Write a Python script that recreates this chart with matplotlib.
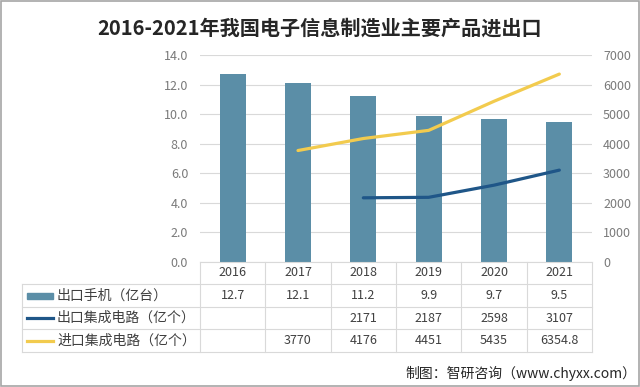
import matplotlib
matplotlib.use("Agg")
import matplotlib.pyplot as plt
from matplotlib.transforms import blended_transform_factory
from matplotlib.patches import Rectangle
from matplotlib.lines import Line2D

plt.rcParams['font.family'] = ['Noto Sans CJK SC', 'DejaVu Sans']

years = ['2016', '2017', '2018', '2019', '2020', '2021']
phones = [12.7, 12.1, 11.2, 9.9, 9.7, 9.5]
ic_export = [None, None, 2171, 2187, 2598, 3107]
ic_import = [None, 3770, 4176, 4451, 5435, 6354.8]
ic_export_txt = ['', '', '2171', '2187', '2598', '3107']
ic_import_txt = ['', '3770', '4176', '4451', '5435', '6354.8']
phones_txt = ['12.7', '12.1', '11.2', '9.9', '9.7', '9.5']
row_labels = ['出口手机（亿台）', '出口集成电路（亿个）', '进口集成电路（亿个）']

W, H = 640, 387
BAR = '#5b8ea7'
DARK = '#1f5688'
YEL = '#f2cb4e'
GRID = '#d9d9d9'
TXT = '#7a7a7a'


def fx(x):
    return x / W


def fy(y):
    return 1 - y / H


fig = plt.figure(figsize=(6.4, 3.87), dpi=100)
ax = fig.add_axes([fx(200), fy(262), fx(592) - fx(200), fy(55) - fy(262)])
ax2 = ax.twinx()

x = list(range(len(years)))
ax.bar(x, phones, width=0.4, color=BAR, zorder=2)
ax.set_xlim(-0.5, 5.5)
ax.set_ylim(0, 14)
ax.set_yticks([0, 2, 4, 6, 8, 10, 12, 14])
ax.set_yticklabels([f"{v:.1f}" for v in range(0, 15, 2)])
ax.yaxis.grid(True, color=GRID, linewidth=0.8, zorder=0)
ax.set_axisbelow(True)
ax.set_xticks([])

ex_x = [i for i, v in enumerate(ic_export) if v is not None]
ex_y = [v for v in ic_export if v is not None]
im_x = [i for i, v in enumerate(ic_import) if v is not None]
im_y = [v for v in ic_import if v is not None]
ax2.plot(ex_x, ex_y, color=DARK, linewidth=2.3, solid_capstyle='round')
ax2.plot(im_x, im_y, color=YEL, linewidth=2.3, solid_capstyle='round')
ax2.set_ylim(0, 7000)
ax2.set_yticks(range(0, 7001, 1000))

for a in (ax, ax2):
    for s in a.spines.values():
        s.set_visible(False)
    a.tick_params(length=0, labelsize=9, colors=TXT)
ax.tick_params(axis='y', pad=8.5)
ax2.tick_params(axis='y', pad=8)

# data table below the plot
tr = blended_transform_factory(ax.transData, fig.transFigure)
row_y = [262, 284, 307, 329, 352]
fig.add_artist(Line2D([fx(200), fx(592)], [fy(262), fy(262)], color=GRID, lw=0.8))
for yy in row_y[1:]:
    fig.add_artist(Line2D([fx(22), fx(592)], [fy(yy), fy(yy)], color=GRID, lw=0.8))
for i in range(len(years) + 1):
    xx = i - 0.5
    fig.add_artist(Line2D([xx, xx], [fy(262), fy(352)], color=GRID, lw=0.8, transform=tr))
fig.add_artist(Line2D([fx(22), fx(22)], [fy(284), fy(352)], color=GRID, lw=0.8))

rows = [years, phones_txt, ic_export_txt, ic_import_txt]
for r, vals in enumerate(rows):
    yc = fy((row_y[r] + row_y[r + 1]) / 2)
    for i, v in enumerate(vals):
        fig.text(i, yc, v, transform=tr, ha='center', va='center', fontsize=9, color='#404040')

# legend keys + labels
for r, lab in enumerate(row_labels):
    yc = (row_y[r + 1] + row_y[r + 2]) / 2
    if r == 0:
        fig.add_artist(Rectangle((fx(27), fy(yc + 3)), fx(26), fy(yc - 3) - fy(yc + 3),
                                 color=BAR, transform=fig.transFigure))
    else:
        fig.add_artist(Line2D([fx(27), fx(53)], [fy(yc), fy(yc)], color=[DARK, YEL][r - 1], lw=2.3))
    fig.text(fx(57), fy(yc), lab, ha='left', va='center', fontsize=10, color='#404040')

fig.text(0.5, fy(28), '2016-2021年我国电子信息制造业主要产品进出口', ha='center', va='center',
         fontsize=14.5, fontweight='bold', color='#262626')
fig.text(fx(636), fy(373), '制图：智研咨询（www.chyxx.com）', ha='right', va='center',
         fontsize=10, color='#262626')

fig.add_artist(Rectangle((0.002, 0.003), 0.996, 0.994, fill=False, edgecolor='#a6a6a6',
                         lw=1.2, transform=fig.transFigure))

fig.savefig('out.png', dpi=100)
